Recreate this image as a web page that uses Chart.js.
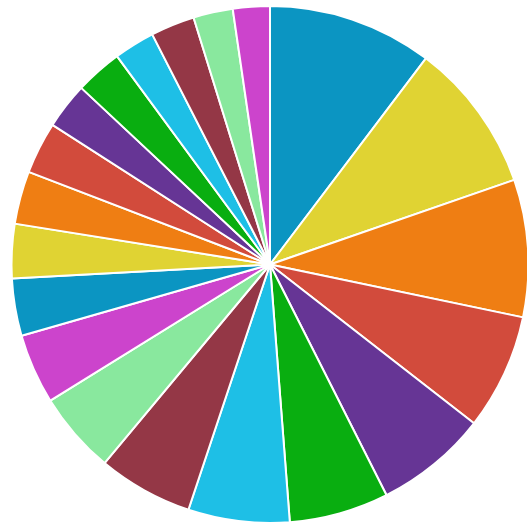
<!DOCTYPE html>
<html>
<head>
<meta charset="utf-8">
<script src="https://cdn.jsdelivr.net/npm/chart.js@4/dist/chart.umd.min.js"></script>
<style>
    html, body { margin: 0; padding: 0; background: #ffffff; overflow: hidden; }
    canvas { display: block; }
</style>
</head>
<body>
<!-- canvas is a bit wider than the window: the pie runs past the right edge in the reference -->
<canvas id="pieChart" width="530" height="527"></canvas>
<script>
// slice values, read clockwise from 12 o'clock
const categories = ['A', 'B', 'C', 'D', 'E', 'F', 'G', 'H', 'I', 'J',
                    'K', 'L', 'M', 'N', 'O', 'P', 'Q', 'R', 'S', 'T'];
const values = [37.1, 33.8, 30.9, 26.1, 25.3, 22.4, 22.8, 21.4, 18.4, 15.8,
                12.9, 12.2, 11.9, 11.7, 10.4, 10.6, 9.2, 9.9, 8.9, 8.3];
const palette = ['#0b95c2', '#e0d333', '#ef7e13', '#d24b3c', '#663595',
                 '#09ae10', '#1ebfe6', '#943746', '#89e89e', '#cc44cc'];

document.addEventListener('DOMContentLoaded', function() {
    const ctx = document.getElementById('pieChart');
    new Chart(ctx, {
        type: 'pie',
        data: {
            labels: categories,
            datasets: [{
                data: values,
                backgroundColor: values.map(function(v, i) { return palette[i % palette.length]; }),
                borderColor: '#ffffff',
                borderWidth: 2,
                hoverOffset: 0
            }]
        },
        options: {
            responsive: false,
            animation: false,
            layout: {
                padding: { left: 10, right: 0, top: 5, bottom: 3 }
            },
            plugins: {
                legend: { display: false },
                tooltip: { enabled: false }
            }
        }
    });
});
</script>
</body>
</html>
